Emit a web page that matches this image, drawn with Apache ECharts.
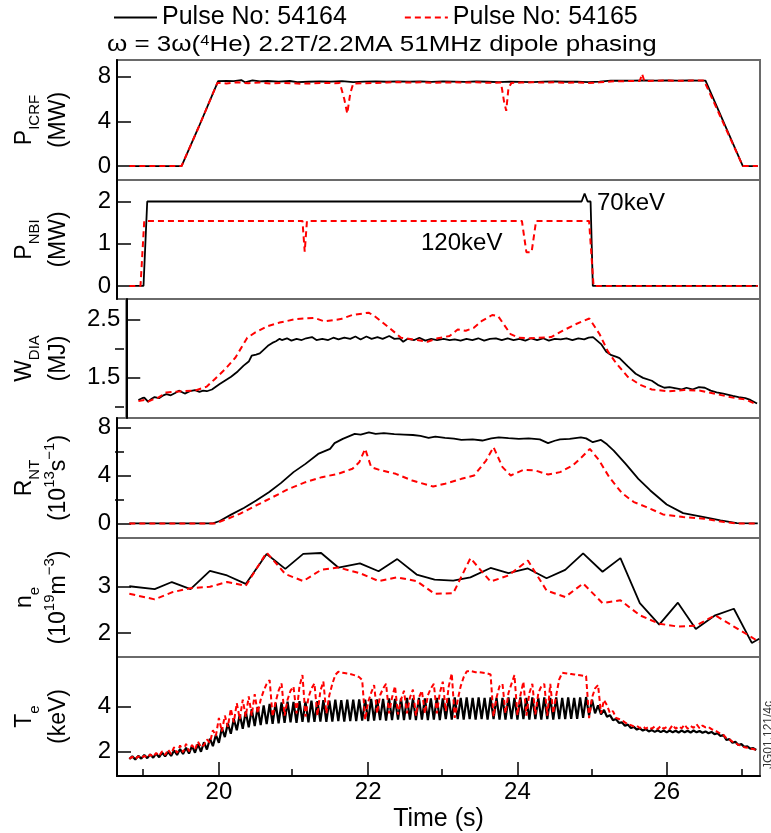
<!DOCTYPE html>
<html><head><meta charset="utf-8">
<script src="https://cdn.jsdelivr.net/npm/echarts@6/dist/echarts.min.js"></script>
<style>html,body{margin:0;padding:0;background:#fff}#c{width:771px;height:833px}</style>
</head><body><div id="c"></div>
<script>
// ---------------- DATA ----------------
const seriesNames = ['Pulse No: 54164', 'Pulse No: 54165'];
const xRange = [18.635, 27.25];
const xMajorTicks = [20, 22, 24, 26];
const xMinorTicks = [19, 21, 23, 25, 27];

// P_ICRF (MW)
const picrf54164 = [[18.80,0],[19.50,0],[19.73,3.5],[19.99,7.6],[20.10,7.62],[20.20,7.60],[20.30,7.70],[20.35,7.50],[20.45,7.68],[20.55,7.58],[20.65,7.62],[20.80,7.56],[20.95,7.62],[21.05,7.52],[21.20,7.55],[21.35,7.58],[21.50,7.56],[21.65,7.60],[21.80,7.52],[21.95,7.56],[22.10,7.58],[22.25,7.55],[22.40,7.58],[22.55,7.56],[22.70,7.58],[22.85,7.54],[23.00,7.58],[23.15,7.56],[23.30,7.54],[23.45,7.58],[23.60,7.55],[23.75,7.52],[23.90,7.56],[24.05,7.54],[24.20,7.52],[24.35,7.56],[24.50,7.58],[24.65,7.55],[24.80,7.56],[24.95,7.52],[25.10,7.56],[25.25,7.66],[25.40,7.64],[25.55,7.66],[25.70,7.68],[25.85,7.66],[26.00,7.68],[26.15,7.66],[26.30,7.68],[26.45,7.66],[26.52,7.66],[27.02,0],[27.22,0]];
const picrf54165 = [[18.80,0],[19.50,0],[19.73,3.5],[19.98,7.45],[20.10,7.40],[20.25,7.50],[20.40,7.42],[20.55,7.48],[20.70,7.40],[20.85,7.45],[21.00,7.42],[21.10,7.38],[21.25,7.40],[21.40,7.45],[21.55,7.42],[21.62,7.45],[21.68,6.0],[21.72,4.7],[21.76,6.5],[21.80,7.40],[21.95,7.42],[22.10,7.45],[22.25,7.48],[22.40,7.52],[22.55,7.48],[22.70,7.50],[22.85,7.45],[23.00,7.48],[23.15,7.50],[23.30,7.48],[23.45,7.50],[23.60,7.46],[23.78,7.48],[23.82,5.8],[23.85,4.95],[23.88,7.0],[23.92,7.45],[24.05,7.48],[24.20,7.50],[24.35,7.48],[24.50,7.50],[24.65,7.46],[24.80,7.48],[24.95,7.44],[25.10,7.50],[25.25,7.58],[25.40,7.60],[25.55,7.62],[25.64,7.62],[25.67,8.25],[25.70,7.62],[25.85,7.64],[26.00,7.66],[26.20,7.64],[26.35,7.66],[26.50,7.66],[27.02,0],[27.22,0]];

// P_NBI (MW)
const pnbi54164 = [[18.80,0],[18.99,0],[19.04,2.0],[24.86,2.0],[24.90,2.19],[24.94,2.0],[24.98,2.0],[25.01,0],[27.22,0]];
const pnbi54165 = [[18.80,0],[18.95,0],[19.00,1.54],[21.12,1.54],[21.15,0.81],[21.18,1.54],[24.06,1.54],[24.12,0.80],[24.19,0.80],[24.25,1.54],[24.96,1.54],[25.02,0],[27.22,0]];

// W_DIA (MJ)
const wdia54164 = [[18.80,1.12],[18.85,1.15],[18.88,1.16],[18.93,1.09],[18.98,1.14],[19.02,1.17],[19.08,1.15],[19.14,1.20],[19.18,1.22],[19.24,1.20],[19.30,1.24],[19.35,1.28],[19.43,1.23],[19.50,1.27],[19.57,1.29],[19.63,1.26],[19.68,1.28],[19.73,1.27],[19.80,1.30],[19.90,1.39],[20.06,1.52],[20.15,1.61],[20.23,1.71],[20.30,1.78],[20.34,1.88],[20.40,1.90],[20.45,1.92],[20.56,2.05],[20.62,2.10],[20.67,2.13],[20.72,2.17],[20.75,2.15],[20.82,2.18],[20.88,2.14],[20.95,2.17],[21.02,2.15],[21.08,2.18],[21.16,2.20],[21.22,2.15],[21.30,2.17],[21.38,2.15],[21.45,2.19],[21.52,2.16],[21.60,2.19],[21.68,2.17],[21.75,2.21],[21.82,2.16],[21.90,2.21],[21.97,2.17],[22.05,2.20],[22.12,2.17],[22.21,2.22],[22.28,2.17],[22.35,2.18],[22.40,2.12],[22.46,2.17],[22.55,2.15],[22.62,2.19],[22.70,2.14],[22.78,2.17],[22.86,2.15],[22.95,2.17],[23.03,2.15],[23.10,2.16],[23.18,2.14],[23.26,2.17],[23.34,2.15],[23.42,2.18],[23.50,2.14],[23.58,2.17],[23.66,2.18],[23.74,2.15],[23.82,2.18],[23.90,2.15],[23.98,2.17],[24.06,2.14],[24.14,2.18],[24.22,2.15],[24.30,2.18],[24.38,2.14],[24.46,2.17],[24.54,2.16],[24.62,2.18],[24.70,2.15],[24.78,2.18],[24.86,2.16],[24.92,2.19],[24.98,2.20],[25.09,2.08],[25.16,1.95],[25.23,1.89],[25.30,1.86],[25.34,1.84],[25.45,1.70],[25.56,1.57],[25.66,1.50],[25.78,1.45],[25.86,1.38],[25.95,1.33],[26.02,1.34],[26.11,1.32],[26.18,1.30],[26.25,1.33],[26.33,1.30],[26.42,1.34],[26.50,1.33],[26.58,1.28],[26.66,1.25],[26.75,1.23],[26.88,1.19],[26.96,1.17],[27.05,1.15],[27.12,1.12],[27.21,1.06]];
const wdia54165 = [[18.80,1.10],[18.88,1.12],[18.93,1.09],[19.00,1.13],[19.07,1.16],[19.18,1.25],[19.28,1.26],[19.40,1.27],[19.57,1.28],[19.73,1.35],[19.84,1.48],[19.98,1.65],[20.12,1.85],[20.28,2.19],[20.39,2.28],[20.56,2.39],[20.72,2.45],[20.94,2.51],[21.19,2.53],[21.33,2.47],[21.55,2.51],[21.71,2.58],[21.93,2.62],[22.01,2.56],[22.21,2.36],[22.37,2.19],[22.59,2.15],[22.73,2.12],[22.87,2.18],[23.03,2.22],[23.14,2.33],[23.25,2.31],[23.36,2.36],[23.47,2.48],[23.61,2.58],[23.69,2.56],[23.86,2.25],[23.97,2.19],[24.13,2.18],[24.41,2.20],[24.57,2.31],[24.74,2.42],[24.93,2.52],[25.07,2.25],[25.18,1.96],[25.29,1.76],[25.45,1.52],[25.62,1.38],[25.78,1.30],[26.00,1.27],[26.22,1.29],[26.44,1.28],[26.66,1.22],[26.88,1.16],[27.05,1.13],[27.21,1.04]];

// R_NT (1e13 /s)
const rnt54164 = [[18.80,0],[19.92,0],[20.01,0.2],[20.17,0.75],[20.34,1.3],[20.50,1.92],[20.67,2.6],[20.83,3.36],[21.00,4.28],[21.16,4.97],[21.33,5.8],[21.49,6.22],[21.55,6.7],[21.66,7.06],[21.82,7.47],[21.90,7.42],[22.01,7.6],[22.10,7.48],[22.21,7.53],[22.35,7.46],[22.48,7.42],[22.60,7.38],[22.70,7.30],[22.81,7.14],[22.90,7.25],[23.03,7.14],[23.15,7.08],[23.25,6.97],[23.40,7.02],[23.53,6.92],[23.65,7.10],[23.75,7.19],[23.88,7.12],[24.02,7.06],[24.15,7.10],[24.30,7.02],[24.41,6.70],[24.50,6.90],[24.57,7.02],[24.70,7.05],[24.85,7.19],[24.92,7.10],[25.01,6.78],[25.12,6.97],[25.20,6.60],[25.29,6.08],[25.45,4.97],[25.62,3.72],[25.78,2.75],[26.00,1.58],[26.22,0.86],[26.50,0.53],[26.72,0.25],[26.94,0.03],[27.22,0]];
const rnt54165 = [[18.80,0],[19.95,0],[20.12,0.39],[20.28,0.8],[20.50,1.5],[20.72,2.19],[20.94,2.89],[21.16,3.44],[21.38,3.86],[21.60,4.14],[21.79,4.56],[21.88,5.1],[21.96,6.22],[22.04,4.7],[22.15,4.47],[22.37,4.14],[22.59,3.58],[22.87,3.08],[23.03,3.31],[23.25,3.72],[23.42,4.0],[23.58,5.25],[23.68,6.36],[23.80,4.7],[23.91,4.0],[24.08,4.47],[24.24,4.42],[24.41,4.08],[24.57,4.28],[24.74,4.83],[24.87,5.58],[24.97,6.22],[25.09,5.3],[25.23,3.86],[25.40,2.53],[25.56,1.78],[25.73,1.36],[25.95,0.75],[26.22,0.53],[26.50,0.39],[26.77,0.11],[26.94,0],[27.22,0]];

// n_e (1e19 m^-3)
const ne54164 = [[18.80,3.00],[19.14,2.94],[19.37,3.09],[19.62,2.94],[19.88,3.33],[20.11,3.23],[20.36,3.05],[20.64,3.69],[20.89,3.37],[21.13,3.69],[21.37,3.71],[21.60,3.40],[21.89,3.49],[22.14,3.32],[22.39,3.58],[22.65,3.25],[22.89,3.14],[23.14,3.12],[23.37,3.19],[23.64,3.39],[23.88,3.28],[24.14,3.38],[24.39,3.17],[24.64,3.35],[24.88,3.70],[25.14,3.31],[25.38,3.60],[25.64,2.64],[25.90,2.18],[26.15,2.65],[26.39,2.09],[26.65,2.38],[26.90,2.52],[27.14,1.79],[27.24,1.88]];
const ne54165 = [[18.80,2.84],[19.14,2.72],[19.37,2.87],[19.62,2.96],[19.88,2.99],[20.11,3.09],[20.36,3.01],[20.64,3.72],[20.89,3.26],[21.13,3.11],[21.37,3.35],[21.60,3.40],[21.89,3.28],[22.14,3.11],[22.39,3.19],[22.65,3.11],[22.89,2.84],[23.14,2.85],[23.37,3.60],[23.64,3.10],[23.88,3.23],[24.14,3.55],[24.39,2.91],[24.64,2.77],[24.88,3.06],[25.14,2.64],[25.38,2.70],[25.64,2.38],[25.90,2.20],[26.15,2.14],[26.39,2.16],[26.65,2.38],[26.90,2.14],[27.14,1.91],[27.24,1.81]];

// T_e (keV), sampled every 0.04 s from 18.80 s
const teStart = 18.80, teStep = 0.04;
const te54164 = [
 1.68,1.80,1.66,1.82,1.70,1.86,1.72,1.88,1.74,1.92,1.76,1.96,1.80,2.00,1.82,2.06,1.86,2.12,1.90,2.18,1.92,2.26,1.96,2.34,2.00,
 2.42,2.10,2.58,2.25,2.75,2.40,3.05,2.65,3.25,2.80,3.45,2.95,3.65,3.02,3.78,3.08,3.88,3.14,3.98,3.18,4.05,3.22,4.12,3.24,4.16,
 3.26,4.18,3.28,4.22,3.30,4.20,3.28,4.24,3.32,4.22,3.30,4.26,3.32,4.24,3.34,4.28,3.32,4.26,3.34,4.30,3.36,4.28,3.34,4.30,3.36,
 4.30,3.36,4.32,3.38,4.30,3.36,4.34,3.38,4.32,3.40,4.34,3.38,4.36,3.40,4.34,3.42,4.36,3.40,4.38,3.42,4.36,3.40,4.38,3.42,4.36,
 3.40,4.36,3.42,4.38,3.40,4.36,3.44,4.38,3.42,4.40,3.44,4.38,3.42,4.40,3.44,4.38,3.42,4.40,3.44,4.38,3.42,4.40,3.44,4.38,3.42,
 4.38,3.42,4.40,3.44,4.38,3.42,4.40,3.44,4.38,3.42,4.40,3.44,4.38,3.42,4.40,3.44,4.38,3.42,4.40,3.44,4.38,3.44,4.40,3.46,4.38,
 3.46,4.40,3.50,4.42,3.60,4.30,3.70,4.05,3.65,3.85,3.55,3.62,3.40,3.45,3.28,3.30,3.15,3.20,3.05,3.10,2.98,3.04,2.94,3.00,2.90,
 2.96,2.88,2.95,2.87,2.94,2.86,2.94,2.86,2.93,2.85,2.94,2.86,2.93,2.85,2.94,2.86,2.92,2.84,2.90,2.82,2.88,2.78,2.82,2.70,2.74,
 2.52,2.56,2.40,2.44,2.30,2.34,2.22,2.24,2.14,2.16,2.08];
const te54165 = [
 1.70,1.78,1.68,1.80,1.72,1.82,1.74,1.88,1.78,1.95,1.82,2.02,1.86,2.10,1.90,2.20,1.95,2.28,1.98,2.35,2.02,2.30,2.10,2.45,2.20,
 2.30,2.55,2.40,2.95,2.70,3.50,2.90,3.60,3.10,3.90,3.30,4.15,3.45,4.30,3.55,4.45,3.60,4.55,3.70,4.30,4.70,5.00,5.17,3.56,4.20,
 4.70,5.02,3.60,4.30,4.70,4.88,3.70,4.90,5.39,3.56,4.40,4.80,5.02,3.60,4.70,5.10,3.70,4.50,5.00,5.40,5.54,5.50,5.48,5.46,5.44,
 5.40,5.36,5.30,5.17,3.42,4.20,4.60,4.95,3.70,4.50,4.80,5.00,3.70,4.40,4.90,3.65,4.30,4.70,3.70,4.40,4.75,3.60,4.40,4.70,3.70,
 4.50,4.80,5.00,3.70,4.60,5.10,3.80,4.90,5.46,3.50,4.30,4.90,5.30,5.55,5.58,5.55,5.52,5.52,5.50,5.48,5.46,5.42,3.56,4.40,4.90,
 5.00,3.70,4.60,5.00,5.39,3.62,4.50,5.10,3.60,4.60,5.00,3.65,4.60,4.90,5.00,3.60,5.00,3.70,4.50,5.20,5.49,5.47,5.45,5.44,5.42,
 5.40,5.38,5.36,5.35,3.49,4.40,4.80,4.95,3.70,4.29,4.05,3.71,3.80,3.50,3.45,3.40,3.30,3.22,3.18,3.12,3.15,3.05,3.12,3.02,3.10,
 3.02,3.12,3.00,3.14,3.02,3.10,3.00,3.18,3.02,3.12,3.04,3.20,3.02,3.14,3.06,3.22,3.04,3.16,3.08,3.10,3.00,2.96,2.88,2.80,2.74,
 2.60,2.55,2.45,2.40,2.30,2.28,2.20,2.18,2.14,2.12,2.08];

// ---------------- CHART ----------------
const FONT = 'Liberation Sans';
const pair = (vals) => vals.map((v, i) => [+(teStart + i * teStep).toFixed(2), v]);

const rich = {
  m: {fontSize: 23, fontFamily: FONT, color: '#000', lineHeight: 34},
  s: {fontSize: 15, fontFamily: FONT, color: '#000', verticalAlign: 'bottom', lineHeight: 15},
  p: {fontSize: 15, fontFamily: FONT, color: '#000', verticalAlign: 'top', lineHeight: 15}
};

const panels = [
  {top: 60,  h: 120, min: -1.25, max: 9.5,  major: [0,4,8],   minor: [],      name: '{m|P}{s|ICRF}\n{m|(MW)}', a: picrf54164, b: picrf54165},
  {top: 180, h: 119, min: -0.31, max: 2.51, major: [0,1,2],   minor: [],      name: '{m|P}{s|NBI}\n{m|(MW)}',  a: pnbi54164,  b: pnbi54165},
  {top: 299, h: 119, min: 0.81,  max: 2.855,major: [1.5,2.5], minor: [1.0,2.0], name: '{m|W}{s|DIA}\n{m|(MJ)}', a: wdia54164, b: wdia54165},
  {top: 418, h: 120, min: -1.22, max: 8.8,  major: [0,4,8],   minor: [2,6],   name: '{m|R}{s|NT}\n{m|(10}{p|13}{m|s}{p|−1}{m|)}', a: rnt54164, b: rnt54165},
  {top: 538, h: 119, min: 1.49,  max: 4.03, major: [2,3],     minor: [],      name: '{m|n}{s|e}\n{m|(10}{p|19}{m|m}{p|−3}{m|)}', a: ne54164, b: ne54165},
  {top: 657, h: 120, min: 0.93,  max: 6.19, major: [2,4],     minor: [],      name: '{m|T}{s|e}\n{m|(keV)}', a: pair(te54164), b: pair(te54165)}
];

const grid = [], xAxis = [], yAxis = [], series = [];
const hiddenAxis = (gi, isX, p) => ({type: 'value', gridIndex: gi, show: false,
  min: isX ? xRange[0] : p.min, max: isX ? xRange[1] : p.max});

panels.forEach((p, i) => {
  const last = i === panels.length - 1;
  grid.push({left: 115, right: 11, top: p.top, height: p.h, show: true,
    borderColor: '#6a6a6a', borderWidth: 2, backgroundColor: 'transparent'});
  xAxis.push({type: 'value', gridIndex: i, min: xRange[0], max: xRange[1], position: 'bottom',
    axisLine: {show: last, onZero: false, lineStyle: {color: '#000', width: 2}},
    axisTick: {show: last, inside: true, length: 14, customValues: xMajorTicks, lineStyle: {color: '#000', width: 1.5}},
    axisLabel: {show: last, customValues: xMajorTicks, fontSize: 24, fontFamily: FONT, color: '#000', margin: 4},
    splitLine: {show: false},
    name: last ? 'Time (s)' : '', nameLocation: 'middle', nameGap: 31,
    nameTextStyle: {fontSize: 25, fontFamily: FONT, color: '#000'}});
  yAxis.push({type: 'value', gridIndex: i, min: p.min, max: p.max, position: 'left',
    axisLine: {show: true, onZero: false, lineStyle: {color: '#000', width: 2}},
    axisTick: {show: true, inside: true, length: 14, customValues: p.major, lineStyle: {color: '#000', width: 1.5}},
    axisLabel: {customValues: p.major, fontSize: 24, fontFamily: FONT, color: '#000', margin: 6},
    splitLine: {show: false},
    name: p.name, nameLocation: 'middle', nameRotate: 90, nameGap: 41,
    nameTextStyle: {fontSize: 23, fontFamily: FONT, color: '#000', lineHeight: 34, rich: rich}});
});

// extra overlay grids carrying minor ticks only
panels.forEach((p, i) => {
  const last = i === panels.length - 1;
  if (!p.minor.length && !last) return;
  const gi = grid.length;
  grid.push({left: 115, right: 11, top: p.top, height: p.h, show: false});
  if (last) {
    xAxis.push({type: 'value', gridIndex: gi, min: xRange[0], max: xRange[1], position: 'bottom',
      axisLine: {show: false, onZero: false}, axisTick: {show: true, inside: true, length: 8, customValues: xMinorTicks, lineStyle: {color: '#000', width: 1.5}},
      axisLabel: {show: false}, splitLine: {show: false}});
  } else {
    xAxis.push(hiddenAxis(gi, true, p));
  }
  if (p.minor.length) {
    yAxis.push({type: 'value', gridIndex: gi, min: p.min, max: p.max, position: 'left',
      axisLine: {show: false, onZero: false}, axisTick: {show: true, inside: true, length: 9, customValues: p.minor, lineStyle: {color: '#000', width: 1.5}},
      axisLabel: {show: false}, splitLine: {show: false}});
  } else {
    yAxis.push(hiddenAxis(gi, false, p));
  }
});

panels.forEach((p, i) => {
  const dash = i === 5 ? [5, 3] : [6, 4];
  series.push({type: 'line', name: seriesNames[0], xAxisIndex: i, yAxisIndex: i, data: p.a,
    symbol: 'none', showSymbol: false, animation: false, z: 2,
    lineStyle: {color: '#000', width: i === 5 ? 2.2 : 1.8}, itemStyle: {color: '#000'}});
  series.push({type: 'line', name: seriesNames[1], xAxisIndex: i, yAxisIndex: i, data: p.b,
    symbol: 'none', showSymbol: false, animation: false, z: 3,
    lineStyle: {color: '#ff0000', width: 2, type: dash}, itemStyle: {color: '#ff0000'}});
});

const option = {
  backgroundColor: '#fff',
  animation: false,
  grid, xAxis, yAxis, series,
  legend: {data: seriesNames, left: 113, top: 5, padding: 0, itemWidth: 43, itemHeight: 14, itemGap: 57,
    itemStyle: {opacity: 0},
    lineStyle: {width: 2},
    textStyle: {fontSize: 25, fontFamily: FONT, color: '#000'}},
  graphic: [
    {type: 'text', x: 107, y: 34, scaleX: 1.18, style: {
      text: 'ω = 3ω({sup|4}He) 2.2T/2.2MA 51MHz dipole phasing',
      font: '22px "Liberation Sans"', fill: '#000',
      rich: {sup: {fontSize: 14, fontFamily: FONT, verticalAlign: 'top', lineHeight: 14, fill: '#000'}}}},
    {type: 'text', x: 597, y: 203, style: {text: '70keV', font: '24px "Liberation Sans"', fill: '#000', verticalAlign: 'middle'}},
    {type: 'text', x: 421, y: 243, style: {text: '120keV', font: '24px "Liberation Sans"', fill: '#000', verticalAlign: 'middle'}},
    {type: 'text', x: 769, y: 735, rotation: Math.PI / 2, style: {text: 'JG01.121/4c', font: '12px "Liberation Sans"', fill: '#333', align: 'center', verticalAlign: 'middle'}}
  ]
};
const chart = echarts.init(document.getElementById('c'));
chart.setOption(option);
</script></body></html>
